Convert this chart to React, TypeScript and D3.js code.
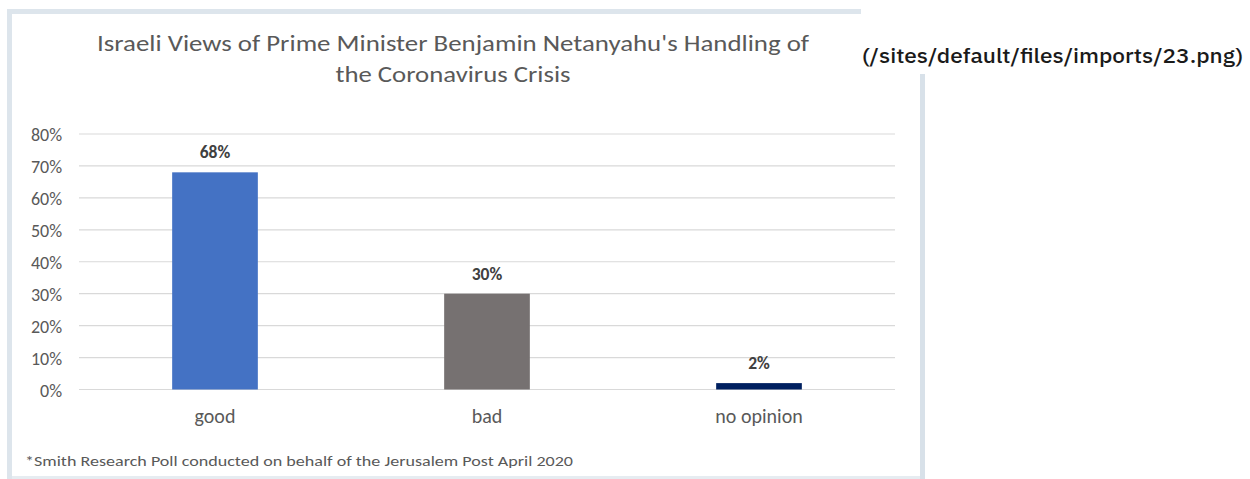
import React from "react";
import * as d3 from "d3";

const categories = ["good", "bad", "no opinion"];
const values = [68, 30, 2];
const barColors = ["#4472C4", "#767171", "#002060"];
const yTicks = [0, 10, 20, 30, 40, 50, 60, 70, 80];
const titleLines = [
  "Israeli Views of Prime Minister Benjamin Netanyahu's Handling of",
  "the Coronavirus Crisis",
];
const footnote = "*Smith Research Poll conducted on behalf of the Jerusalem Post April 2020";
const sideText = "(/sites/default/files/imports/23.png)";

const W = 1250;
const H = 479;
const FONT = "Carlito, Lato, 'Open Sans', sans-serif";

export default function App() {
  const plotLeft = 79;
  const plotRight = 895;
  const x = d3.scaleBand<string>().domain(categories).range([plotLeft, plotRight]).padding(0);
  const y = d3.scaleLinear().domain([0, 80]).range([389.5, 134]);
  const barW = x.bandwidth() * 0.315;

  return (
    <svg
      width={W}
      height={H}
      style={{ position: "absolute", left: 0, top: 0, background: "#fff" }}
    >
      {/* image frame */}
      <rect x={7} y={9} width={854} height={5} fill="#dde5ec" />
      <rect x={7} y={9} width={5} height={470} fill="#dde5ec" />
      <rect x={920} y={74} width={5} height={405} fill="#d8e1e9" />
      <rect x={12} y={476} width={908} height={3} fill="#e6ecf1" />

      {/* title */}
      {titleLines.map((t, i) => (
        <text
          key={i}
          x={453}
          y={51 + i * 31}
          textAnchor="middle"
          fontFamily={FONT}
          fontSize={22}
          fill="#595959"
          textLength={i === 0 ? 712 : 235}
          lengthAdjust="spacingAndGlyphs"
        >
          {t}
        </text>
      ))}

      {/* gridlines + y labels */}
      {yTicks.map((t) => (
        <g key={t}>
          <line
            x1={plotLeft}
            x2={plotRight}
            y1={y(t)}
            y2={y(t)}
            stroke="#d9d9d9"
            strokeWidth={1.2}
          />
          <text
            x={62}
            y={y(t) + 7}
            textAnchor="end"
            fontFamily={FONT}
            fontSize={18}
            fill="#595959"
          >
            {t}%
          </text>
        </g>
      ))}

      {/* bars */}
      {categories.map((c, i) => {
        const cx = (x(c) as number) + x.bandwidth() / 2;
        return (
          <g key={c}>
            <rect
              x={cx - barW / 2}
              y={y(values[i])}
              width={barW}
              height={y(0) - y(values[i])}
              fill={barColors[i]}
            />
            <text
              x={cx}
              y={y(values[i]) - 14}
              textAnchor="middle"
              fontFamily={FONT}
              fontSize={17.5}
              fontWeight="bold"
              fill="#404040"
            >
              {values[i]}%
            </text>
            <text
              x={cx}
              y={423}
              textAnchor="middle"
              fontFamily={FONT}
              fontSize={20}
              fill="#595959"
            >
              {c}
            </text>
          </g>
        );
      })}

      {/* footnote */}
      <text
        x={25}
        y={466}
        fontFamily={FONT}
        fontSize={15}
        fill="#595959"
        textLength={548}
        lengthAdjust="spacingAndGlyphs"
      >
        {footnote}
      </text>

      {/* side caption */}
      <text
        x={862}
        y={63}
        fontFamily="'IBM Plex Sans', Inter, 'Noto Sans', sans-serif"
        fontSize={20}
        fontWeight={500}
        fill="#1a1a1a"
        textLength={381}
        lengthAdjust="spacingAndGlyphs"
      >
        {sideText}
      </text>
    </svg>
  );
}
